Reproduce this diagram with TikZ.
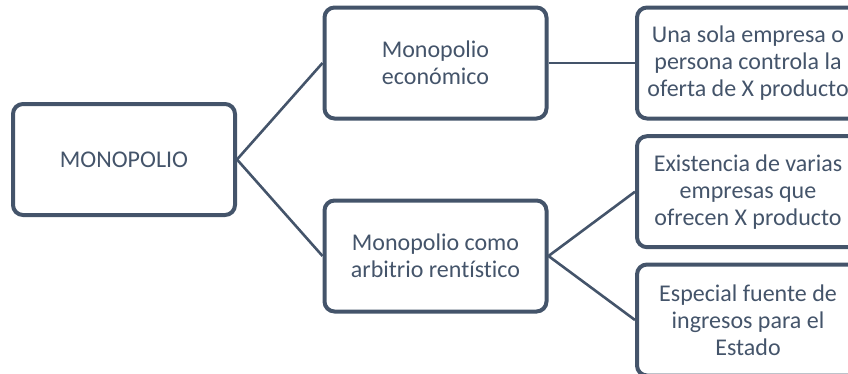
\documentclass[tikz,border=0pt]{standalone}
\usepackage{fontspec}
\setmainfont[Ligatures=NoCommon]{Carlito}
\definecolor{slate}{HTML}{44546A}
\tikzset{box/.style={draw=slate,line width=4pt,rounded corners=10pt,minimum width=222pt,minimum height=111pt,inner sep=0pt,align=center,text=slate,font=\fontsize{24}{27}\selectfont},
link/.style={draw=slate,line width=2.6pt}}
\begin{document}
\begin{tikzpicture}[x=1pt,y=-1pt]
\useasboundingbox (0,0) rectangle (848,373);
\node[box](mono)at(124,159.5){MONOPOLIO};
\node[box](econ)at(435.5,63){Monopolio\\económico};
\node[box](renta)at(435.5,256){Monopolio como\\arbitrio rentístico};
\node[box](sola)at(748,63){Una sola empresa o\\persona controla la\\oferta de X producto};
\node[box](varias)at(748,191.7){Existencia de varias\\empresas que\\ofrecen X producto};
\node[box](fuente)at(748,320){Especial fuente de\\ingresos para el\\Estado};
\draw[link](mono.east)--(econ.west);
\draw[link](mono.east)--(renta.west);
\draw[link](econ.east)--(sola.west);
\draw[link](renta.east)--(varias.west);
\draw[link](renta.east)--(fuente.west);
\end{tikzpicture}
\end{document}
